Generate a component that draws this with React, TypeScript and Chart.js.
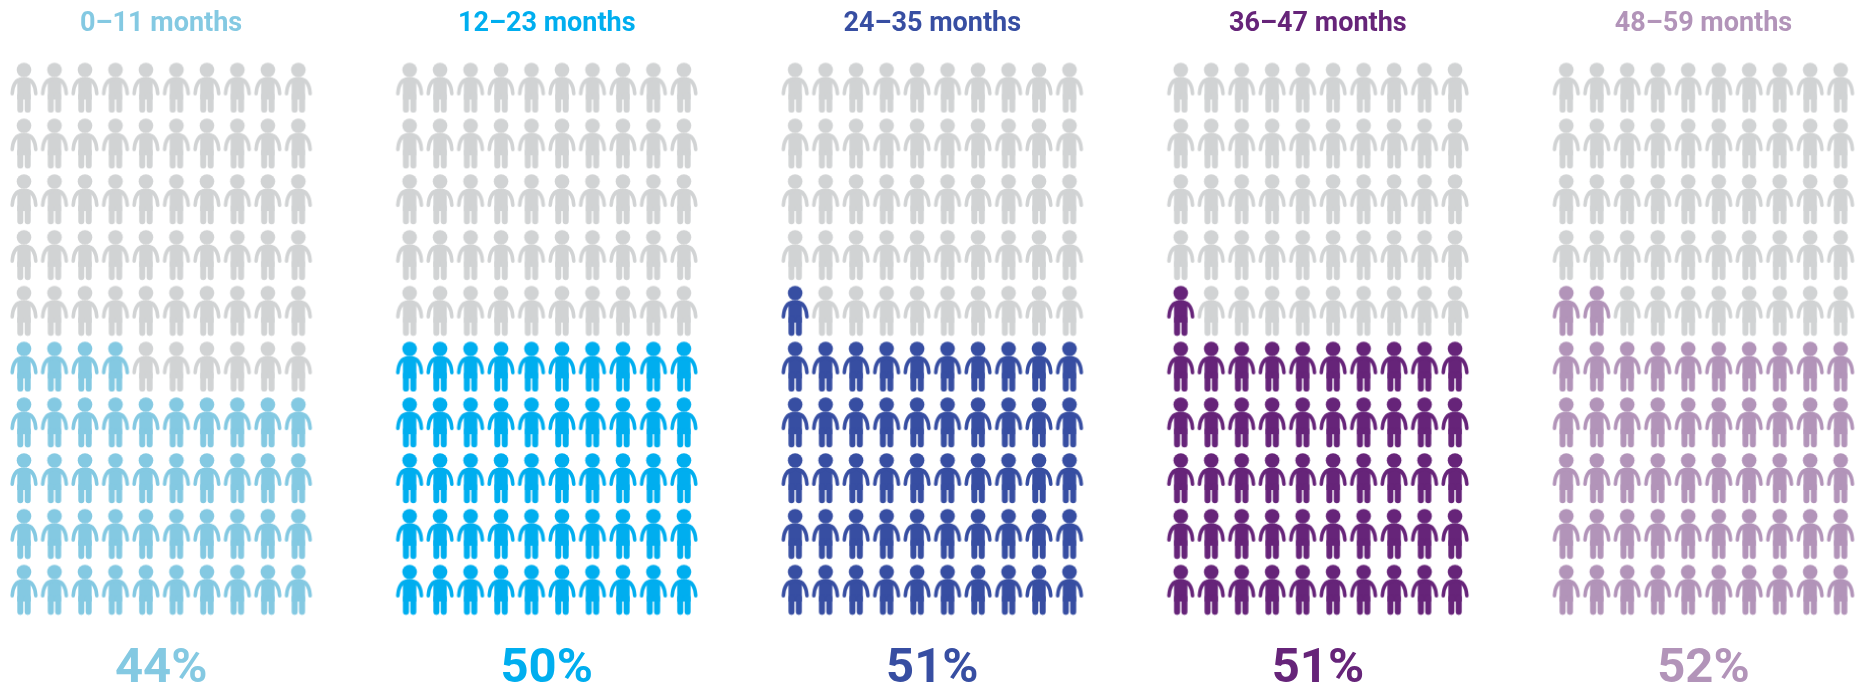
import React, { useEffect, useRef } from "react";
import { Chart, registerables } from "chart.js";

Chart.register(...registerables);

const ageGroups = ["0–11 months", "12–23 months", "24–35 months", "36–47 months", "48–59 months"];
const percentages = [44, 50, 51, 51, 52];
const groupColors = ["#84C9E2", "#00AEEF", "#374EA2", "#662479", "#B294B9"];
const emptyColor = "#D1D3D4";
const columnsPerGroup = 10;
const rowsPerGroup = 10;

const FONT = "Roboto, 'Liberation Sans', sans-serif";
const COL_PX = 30.48;
const GROUP_PITCH_COLS = 12.65;
const FIRST_HEAD_PX = 24;
const CANVAS_W = 1866;
const CANVAS_H = 686;
const TOP_AXIS_H = 50;
const BOTTOM_AXIS_H = 46;
const ROW_PX = 55.78;
const FIRST_ROW_CENTER = 87.5;
const LAST_ROW_CENTER = 589.5;

function makeIcon(color: string): HTMLCanvasElement {
  const c = document.createElement("canvas");
  c.width = 30;
  c.height = 52;
  const g = c.getContext("2d")!;
  g.fillStyle = color;
  g.strokeStyle = color;
  g.lineCap = "round";
  g.lineJoin = "round";
  // head
  g.beginPath();
  g.arc(15, 8.5, 7.3, 0, Math.PI * 2);
  g.fill();
  // torso
  g.beginPath();
  g.moveTo(8.3, 24);
  g.bezierCurveTo(8.3, 18, 10, 15.8, 13, 15.8);
  g.lineTo(17, 15.8);
  g.bezierCurveTo(20, 15.8, 21.7, 18, 21.7, 24);
  g.lineTo(21.7, 38);
  g.lineTo(8.3, 38);
  g.closePath();
  g.fill();
  // arms
  g.lineWidth = 3.6;
  g.beginPath();
  g.moveTo(3.2, 32.2);
  g.bezierCurveTo(3.7, 24.5, 6.2, 18, 13, 17.6);
  g.stroke();
  g.beginPath();
  g.moveTo(26.8, 32.2);
  g.bezierCurveTo(26.3, 24.5, 23.8, 18, 17, 17.6);
  g.stroke();
  // legs
  g.lineWidth = 6;
  g.lineCap = "round";
  g.beginPath();
  g.moveTo(11.3, 34);
  g.lineTo(11.3, 48.2);
  g.moveTo(18.7, 34);
  g.lineTo(18.7, 48.2);
  g.stroke();
  return c;
}

function xOf(group: number, col: number) {
  return group * GROUP_PITCH_COLS + col;
}

function cellsFor(group: number, filled: boolean) {
  const out: { x: number; y: number }[] = [];
  const count = percentages[group];
  for (let r = 0; r < rowsPerGroup; r++) {
    for (let c = 0; c < columnsPerGroup; c++) {
      const isFilled = r * columnsPerGroup + c < count;
      if (isFilled === filled) out.push({ x: xOf(group, c), y: r });
    }
  }
  return out;
}

export default function App() {
  const ref = useRef<HTMLCanvasElement>(null);

  useEffect(() => {
    const greyIcon = makeIcon(emptyColor);
    const datasets: any[] = [];
    ageGroups.forEach((name, i) => {
      datasets.push({
        label: name + " rest",
        data: cellsFor(i, false),
        pointStyle: greyIcon,
        pointRadius: 15,
        clip: false,
      });
      datasets.push({
        label: name,
        data: cellsFor(i, true),
        pointStyle: makeIcon(groupColors[i]),
        pointRadius: 15,
        clip: false,
      });
    });

    const centers = ageGroups.map((_, i) => xOf(i, (columnsPerGroup - 1) / 2));
    const setTicks = (scale: any) => {
      scale.ticks = centers.map((value) => ({ value }));
    };
    const fitTo = (h: number) => (s: any) => {
      s.height = h;
      s.paddingLeft = 0;
      s.paddingRight = 0;
    };
    const commonX = {
      type: "linear" as const,
      min: -FIRST_HEAD_PX / COL_PX,
      max: (CANVAS_W - FIRST_HEAD_PX) / COL_PX,
      afterBuildTicks: setTicks,
      grid: { display: false, drawTicks: false },
      border: { display: false },
    };
    const chartBottom = CANVAS_H - BOTTOM_AXIS_H;

    const chart = new Chart(ref.current!, {
      type: "scatter",
      data: { datasets },
      options: {
        responsive: false,
        animation: false,
        layout: { padding: 0, autoPadding: false },
        plugins: { legend: { display: false }, tooltip: { enabled: false } },
        scales: {
          x: {
            ...commonX,
            position: "bottom",
            afterFit: fitTo(BOTTOM_AXIS_H),
            ticks: {
              autoSkip: false,
              maxRotation: 0,
              padding: 0,
              font: { family: FONT, size: 49, weight: "bold" },
              color: (c: any) => groupColors[c.index],
              callback: (_v: any, i: number) => percentages[i] + "%",
            },
          },
          xTop: {
            ...commonX,
            position: "top",
            afterFit: fitTo(TOP_AXIS_H),
            ticks: {
              autoSkip: false,
              maxRotation: 0,
              padding: 10,
              font: { family: FONT, size: 27, weight: "bold" },
              color: (c: any) => groupColors[c.index],
              callback: (_v: any, i: number) => ageGroups[i],
            },
          },
          y: {
            type: "linear",
            display: false,
            min: -(chartBottom - LAST_ROW_CENTER) / ROW_PX,
            max: rowsPerGroup - 1 + (FIRST_ROW_CENTER - TOP_AXIS_H) / ROW_PX,
          },
        },
      },
    });
    return () => chart.destroy();
  }, []);

  return (
    <div style={{ position: "absolute", left: 0, top: 0, width: CANVAS_W, height: CANVAS_H, background: "#fff" }}>
      <canvas ref={ref} width={CANVAS_W} height={CANVAS_H} style={{ display: "block" }} />
    </div>
  );
}
